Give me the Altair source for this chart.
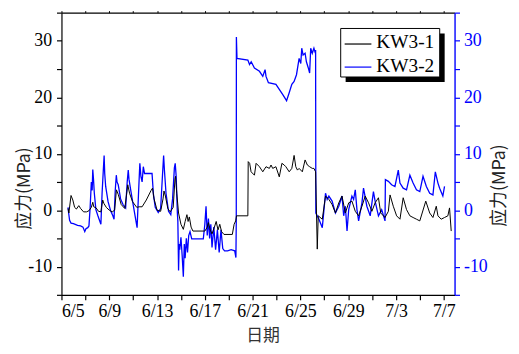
import altair as alt
import pandas as pd

# time in days since 6/5 00:00, stress in MPa
kw1_t = [0.55, 0.62, 0.8, 0.95, 1.1, 1.25, 1.45, 1.6, 1.85, 2.1, 2.3, 2.5, 2.62, 2.7, 2.9, 3.1, 3.3, 3.45, 3.55,
         3.75, 4.0, 4.25, 4.45, 4.6, 4.75, 5.0, 5.3, 5.55, 5.7, 5.95, 6.3, 6.5, 6.75, 7.1, 7.5, 7.62, 7.75, 8.0,
         8.3, 8.5, 8.58, 8.7, 8.9, 9.1, 9.35, 9.5, 9.55, 9.65, 9.8, 10.0, 10.2, 10.35, 10.5, 10.6, 10.7, 10.85,
         11.0, 12.0, 12.2, 12.3, 12.45, 12.6, 12.8, 12.95, 13.1, 13.25, 13.4, 13.6, 14.3, 14.45, 14.58, 14.65,
         15.6, 15.63, 15.75, 15.87, 16.15, 16.29, 16.57, 16.85, 17.12, 17.40, 17.54, 17.68, 17.95, 18.23, 18.45,
         18.64, 18.78, 19.06, 19.28, 19.47, 19.61, 19.75, 19.89, 20.16, 20.39, 20.58, 20.77, 20.99, 21.13, 21.27,
         21.41, 21.49, 21.83, 22.10, 22.38, 22.65, 22.93, 23.21, 23.48, 23.76, 24.04, 24.31, 24.59, 24.87, 25.15,
         25.42, 25.70, 25.98, 26.25, 26.53, 26.72, 27.08, 27.36, 27.50, 27.77, 28.05, 28.33, 28.60, 28.88, 29.16,
         29.43, 29.71, 29.99, 30.49, 30.82, 31.09, 31.37, 31.51, 31.78, 32.06, 32.34, 32.48, 32.62]
kw1_v = [0.3, -0.5, 2.6, 1.8, 0.5, 0.2, 0.8, 0.3, -0.3, -0.3, -0.1, 0.5, 1.4, 0.6, 0.4, -0.2, -0.3, 1.8, 1.2,
         0.5, 0.0, -0.3, 0.0, 3.6, 2.8, 1.0, 0.3, 4.5, 3.0, 1.5, 0.5, 0.6, 0.6, 1.8, 3.5, 3.9, 2.0, 0.0,
         -0.2, 2.0, 3.4, 2.5, 0.3, -0.3, 0.5, 5.5, 6.0, 3.0, -0.5, -2.5, -3.4, -2.0, -0.8, -2.0, -1.2, -3.0,
         -3.7, -3.7, -3.0, -2.2, -3.5, -4.2, -3.0, -2.0, -3.5, -2.5, -3.8, -4.3, -4.3, -2.5, -1.9, -1.0,
         -1.0, 8.6, 8.3, 6.8, 6.2, 8.3, 7.7, 6.8, 7.7, 7.4, 8.0, 7.4, 7.7, 5.9, 8.3,
         8.0, 7.7, 6.8, 7.4, 9.7, 7.7, 7.1, 7.4, 6.8, 8.9, 8.0, 7.7, 7.4, 7.4, 6.8,
         -6.9, -1.0, -1.6, 2.5, 1.9, 1.0, -0.5, 1.3, 2.5, -0.5, 1.3, 1.6, -0.2, -1.0, 0.7,
         2.5, 1.3, -0.2, 1.3, 2.2, -0.5, -1.3, -0.2, 2.7, 0.7, -1.0, -1.6, 2.2, 0.1, -1.0,
         -1.3, -1.6, -1.9, 1.6, -0.5, -1.3, 0.7, -1.0, -1.6, -1.3, -1.0, 0.4, -3.7]

kw2_t = [0.55, 0.6, 0.68, 0.8, 1.0, 1.35, 1.6, 1.8, 1.95, 2.05, 2.2, 2.3, 2.4, 2.5, 2.57, 2.62, 2.68, 2.75, 2.88,
         3.05, 3.15, 3.3, 3.4, 3.5, 3.57, 3.62, 3.7, 3.9, 4.1, 4.3, 4.4, 4.5, 4.59, 4.65, 4.75, 4.95, 5.15, 5.37,
         5.5, 5.59, 5.65, 5.8, 6.0, 6.2, 6.33, 6.45, 6.56, 6.65, 6.75, 6.85, 6.95, 7.58, 7.7, 7.85, 8.1, 8.3,
         8.45, 8.55, 8.62, 8.75, 8.96, 9.15, 9.3, 9.45, 9.52, 9.6, 9.7, 9.74, 9.77, 9.8, 9.85, 9.9, 10.0, 10.1,
         10.2, 10.28, 10.35, 10.45, 10.55, 10.65, 10.76, 10.9, 11.87, 12.0, 12.1, 12.2, 12.3, 12.4, 12.5, 12.6,
         12.75, 12.9, 13.05, 13.2, 13.35, 13.5, 13.65, 13.9, 14.2, 14.5, 14.6, 14.63, 14.64, 14.69, 15.60, 15.74,
         15.88, 16.15, 16.57, 16.85, 17.04, 17.12, 17.32, 17.95, 18.23, 18.51, 18.84, 19.06, 19.28, 19.47, 19.67,
         19.89, 20.03, 20.11, 20.22, 20.39, 20.50, 20.66, 20.77, 20.86, 20.99, 21.13, 21.21, 21.27, 21.29, 21.55,
         21.83, 22.10, 22.24, 22.38, 22.65, 22.93, 23.21, 23.48, 23.62, 23.76, 23.90, 24.04, 24.31, 24.45, 24.59,
         24.73, 24.87, 25.15, 25.28, 25.56, 25.84, 26.11, 26.25, 26.53, 26.80, 27.08, 27.11, 27.36, 27.63, 27.91,
         28.19, 28.33, 28.60, 28.88, 29.16, 29.43, 29.71, 29.99, 30.26, 30.54, 30.82, 31.09, 31.29, 31.51, 31.65,
         31.92, 32.06]
kw2_v = [0.5, -0.5, -1.8, -2.3, -2.4, -2.7, -2.8, -3.0, -3.8, -3.3, -3.1, -2.8, 0.5, 5.0, 3.5, 7.2, 5.5, 3.0, 0.1,
         -1.0, -1.6, -2.5, 3.0, 7.0, 9.7, 6.5, 4.2, 1.5, 0.0, -1.0, -1.6, 3.5, 6.2, 5.0, 4.5, 2.0, 1.0, 0.4,
         5.0, 7.1, 5.5, 3.5, 1.0, -1.5, -3.1, 3.0, 8.3, 6.0, 5.0, 7.7, 6.5, 6.5, 2.7, 0.5, -0.4, 0.3,
         6.0, 9.7, 7.0, 3.0, -0.2, -0.8, 2.0, 7.5, 8.3, 6.0, -0.5, -1.9, -6.0, -10.7, -6.0, -7.0, -4.8, -8.0,
         -11.8, -6.0, -8.5, -5.0, -7.5, -4.5, -3.8, -5.1, -5.1, -2.5, 0.7, -4.5, -1.5, -5.0, -2.5, -6.6,
         -3.0, -7.0, -3.5, -7.5, -3.5, -6.8, -7.2, -7.2, -7.0, -7.2, -8.4, -2.0, 30.7, 26.9, 26.6, 25.8,
         26.3, 25.2, 24.6, 23.7, 24.9, 23.7, 22.6, 22.3, 21.4, 20.5, 19.4, 20.8, 22.3, 22.8, 24.0,
         26.9, 26.0, 28.7, 27.5, 27.8, 26.3, 25.2, 24.3, 28.7, 27.8, 28.7, 28.1, 28.4, -0.5, -1.6,
         -3.1, 3.0, 1.9, 2.5, 1.6, -0.5, 0.7, 2.5, -1.0, 0.7, -3.7, 0.1, 2.5, 1.9, 3.6,
         0.1, -1.9, 1.3, 3.9, 0.7, -1.0, 3.3, 1.6, -1.0, 0.1, -1.9, 5.4, 5.1, 4.5, 4.2,
         7.1, 4.8, 3.9, 3.6, 6.2, 4.8, 3.6, 3.3, 6.0, 4.2, 3.0, 2.7, 6.8, 4.8, 3.9,
         2.5, 4.2]

series_names = ["KW3-1", "KW3-2"]
series_colors = ["#000000", "#0000FF"]
x_ticks = list(range(0, 33, 2))
y_ticks = list(range(-15, 36, 5))

df1 = pd.DataFrame({"t": kw1_t, "v": kw1_v})
df2 = pd.DataFrame({"t": kw2_t, "v": kw2_v})

LABEL_FONT = "Liberation Serif"
CJK_FONT = "Noto Sans CJK SC"
W, H = 397, 285

xscale = alt.Scale(domain=[0, 32.9], nice=False, zero=False)
yscale = alt.Scale(domain=[-15, 35], nice=False, zero=False)
date_expr = "datum.value % 4 == 0 ? timeFormat(datetime(2015, 5, 5 + datum.value), '%-m/%-d') : ''"
ylab_expr = "datum.value % 10 == 0 ? '' + datum.value : ''"

blue = alt.Chart(df2).mark_line(color=series_colors[1], strokeWidth=1.3, clip=True).encode(
    x=alt.X("t:Q", scale=xscale, axis=alt.Axis(
        orient="top", values=x_ticks, labels=False, title=None, tickSize=2,
        domainColor="#000", tickColor="#000", domainWidth=1.2, tickWidth=1, grid=False)),
    y=alt.Y("v:Q", scale=yscale, axis=alt.Axis(
        orient="right", values=y_ticks, labelExpr=ylab_expr, grid=False,
        domainColor=series_colors[1], tickColor=series_colors[1], labelColor=series_colors[1],
        domainWidth=1.4, tickWidth=1.2, tickSize=5, labelPadding=4,
        labelFont=LABEL_FONT, labelFontSize=18,
        title="应力(MPa)", titleFont=CJK_FONT, titleFontSize=18, titleFontWeight="normal",
        titleColor="#222", titleAngle=270, titleX=45, titleY=174,
        titleAlign="center", titleBaseline="middle")),
)

black = alt.Chart(df1).mark_line(color=series_colors[0], strokeWidth=1.0, clip=True).encode(
    x=alt.X("t:Q", scale=xscale, axis=alt.Axis(
        orient="bottom", values=x_ticks, labelExpr=date_expr, grid=False,
        domainColor="#000", tickColor="#000", labelColor="#000", domainWidth=1.2, tickWidth=1.2,
        tickSize=5, labelPadding=3, labelFont=LABEL_FONT, labelFontSize=18,
        title="日期", titleFont=CJK_FONT, titleFontSize=17, titleFontWeight="normal",
        titleColor="#333", titleX=203, titleY=41, titleAlign="center", titleBaseline="middle")),
    y=alt.Y("v:Q", scale=yscale, axis=alt.Axis(
        orient="left", values=y_ticks, labelExpr=ylab_expr, grid=False,
        domainColor="#000", tickColor="#000", labelColor="#000", domainWidth=1.2, tickWidth=1.2,
        tickSize=5, labelPadding=5, labelFont=LABEL_FONT, labelFontSize=18,
        title="应力(MPa)", titleFont=CJK_FONT, titleFontSize=18, titleFontWeight="normal",
        titleColor="#222", titleAngle=270, titleX=-37, titleY=177,
        titleAlign="center", titleBaseline="middle")),
)

one = pd.DataFrame({"a": [0]})
shadow = alt.Chart(one).mark_rect(color="#000").encode(
    x=alt.value(287), x2=alt.value(387), y=alt.value(21), y2=alt.value(70))
box = alt.Chart(one).mark_rect(fill="white", stroke="#000", strokeWidth=1).encode(
    x=alt.value(282), x2=alt.value(382), y=alt.value(16), y2=alt.value(65))
leg_layers = [shadow, box]
for i, (name, col) in enumerate(zip(series_names, series_colors)):
    yy = 31.7 + i * 23.3
    leg_layers.append(alt.Chart(one).mark_rule(color=col, strokeWidth=1.2).encode(
        x=alt.value(286), x2=alt.value(313), y=alt.value(yy)))
    leg_layers.append(alt.Chart(one).mark_text(
        align="left", baseline="middle", font=LABEL_FONT, fontSize=19.5, color="#000").encode(
        x=alt.value(318), y=alt.value(yy - 1.5), text=alt.value(name)))

chart = alt.layer(blue, black, *leg_layers).resolve_scale(
    y="independent").resolve_axis(x="independent").properties(
    width=W, height=H,
    autosize=alt.AutoSizeParams(type="none"),
    padding={"left": 54, "top": 3, "right": 57, "bottom": 50},
    background="white",
).configure_view(stroke=None)

chart.save("out.html", embed_options={"renderer": "svg", "actions": False})
